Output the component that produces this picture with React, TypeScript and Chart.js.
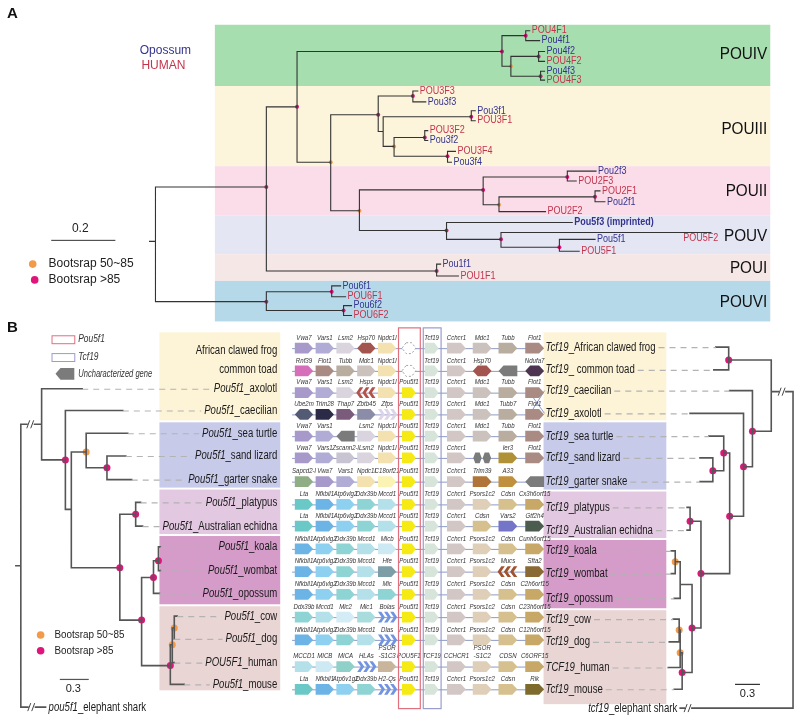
import React, { useEffect, useRef } from 'react';
import { Chart, registerables } from 'chart.js';

Chart.register(...registerables);

const FONT = '"Liberation Sans", Arial, Helvetica, sans-serif';
const BLUE = '#34348f';
const RED = '#c4334c';
const ORANGE = '#f29a48';
const MAGENTA = '#e0157b';

// ---------------- Panel A data ----------------
const cladeNames = ['POUIV', 'POUIII', 'POUII', 'POUV', 'POUI', 'POUVI'];
const cladeTop = [21, 83, 164, 214, 253, 280];
const cladeBottom = [83, 164, 214, 253, 280, 321];
const cladeColors = ['#a6deaf', '#fdf4dc', '#fbdde9', '#e4e6f3', '#f6e7e7', '#b6d9e9'];
const cladeLabelY = [51, 127, 189, 235, 267, 302];

// [id, parent, x, y, bootstrap, label, colour(b/r/B), labelX, labelY]
type TNode = [string, string | null, number, number, string, string?, string?, number?, number?];
const treeA: TNode[] = [
  ['r0', null, 147, 240, ''],
  ['r', 'r0', 153, 240, ''],
  ['n1', 'r', 265, 185, 'm'],
  ['n6', 'r', 265, 301, 'm'],
  ['n2', 'n1', 296, 104, 'm'],
  ['p1', 'n1', 437, 270, 'm'],
  ['iv', 'n2', 503, 48, 'm'],
  ['n3', 'n2', 330, 160, 'o'],
  ['iva', 'iv', 527, 32, 'm'],
  ['a1', 'iva', 531, 27, '', 'POU4F1', 'r'],
  ['a2', 'iva', 541, 37, '', 'Pou4f1', 'b'],
  ['ivb', 'iv', 512, 63, 'o'],
  ['ivc', 'ivb', 540, 53, 'm'],
  ['a3', 'ivc', 546, 48, '', 'Pou4f2', 'b'],
  ['a4', 'ivc', 546, 58, '', 'POU4F2', 'r'],
  ['ivd', 'ivb', 542, 73, 'm'],
  ['a5', 'ivd', 546, 68, '', 'Pou4f3', 'b'],
  ['a6', 'ivd', 546, 77, '', 'POU4F3', 'r'],
  ['iii', 'n3', 378, 112, 'm'],
  ['iiia', 'iii', 413, 93, 'm'],
  ['a7', 'iiia', 418, 88, '', 'POU3F3', 'r'],
  ['a8', 'iiia', 426, 99, '', 'Pou3f3', 'b'],
  ['iiib', 'iii', 383, 129, ''],
  ['iiic', 'iiib', 472, 114, 'm'],
  ['a9', 'iiic', 476, 108, '', 'Pou3f1', 'b'],
  ['a10', 'iiic', 476, 118, '', 'POU3F1', 'r'],
  ['iiid', 'iiib', 394, 144, 'o'],
  ['iiie', 'iiid', 425, 135, 'm'],
  ['a11', 'iiie', 428, 128, '', 'POU3F2', 'r'],
  ['a12', 'iiie', 428, 138, '', 'Pou3f2', 'b'],
  ['iiif', 'iiid', 448, 154, 'm'],
  ['a13', 'iiif', 456, 149, '', 'POU3F4', 'r'],
  ['a14', 'iiif', 452, 160, '', 'Pou3f4', 'b'],
  ['n4', 'n3', 359, 209, 'o'],
  ['ii', 'n4', 484, 188, 'm'],
  ['iia', 'ii', 569, 175, 'm'],
  ['a15', 'iia', 598, 169, '', 'Pou2f3', 'b'],
  ['a16', 'iia', 578, 179, '', 'POU2F3', 'r'],
  ['iib', 'ii', 500, 203, 'o'],
  ['iic', 'iib', 597, 195, 'm'],
  ['a17', 'iic', 602, 189, '', 'POU2F1', 'r'],
  ['a18', 'iic', 607, 200, '', 'Pou2f1', 'b'],
  ['a19', 'iib', 547, 210, '', 'POU2F2', 'r'],
  ['v', 'n4', 447, 229, 'm'],
  ['a20', 'v', 574, 221, '', 'Pou5f3 (imprinted)', 'B'],
  ['va', 'v', 502, 238, 'm'],
  ['a21', 'va', 714, 231, '', 'POU5F2', 'r', 686, 237],
  ['vb', 'va', 561, 246, 'm'],
  ['a22', 'vb', 597, 238, '', 'Pou5f1', 'b'],
  ['a23', 'vb', 581, 250, '', 'POU5F1', 'r'],
  ['a24', 'p1', 441, 263, '', 'Pou1f1', 'b'],
  ['a25', 'p1', 459, 275, '', 'POU1F1', 'r'],
  ['via', 'n6', 331, 291, 'm'],
  ['a26', 'via', 340, 285, '', 'Pou6f1', 'b'],
  ['a27', 'via', 345, 296, '', 'POU6F1', 'r'],
  ['vib', 'n6', 343, 310, 'm'],
  ['a28', 'vib', 351, 305, '', 'Pou6f2', 'b'],
  ['a29', 'vib', 351, 315, '', 'POU6F2', 'r'],
];

// ---------------- Panel B data ----------------
const bandColors = ['#fdf3d6', '#c7cae8', '#e3c8e1', '#d59cca', '#ead5d5'];
const leftBandTop = [332, 423, 491, 538, 609];
const leftBandBottom = [421, 489, 536, 607, 694];
const rightBandTop = [332, 423, 493, 542, 613];
const rightBandBottom = [421, 491, 540, 611, 708];

const leftExtraLabels = ['African clawed frog', 'common toad'];
const leftExtraY = [350, 370];

const treeBL: TNode[] = [
  ['lr0', null, 12, 568, ''],
  ['lr', 'lr0', 17, 568, ''],
  ['l1', 'lr', 38, 425, ''],
  ['shark', 'lr', 42, 711, '', 'pou5f1_elephant shark', 'S'],
  ['axo', 'l1', 79, 389, '', 'Pou5f1_axolotl'],
  ['l2', 'l1', 62, 461, 'm'],
  ['cae', 'l2', 120, 411, '', 'Pou5f1_caecilian'],
  ['l3', 'l2', 68, 511, ''],
  ['l4', 'l3', 83, 453, 'o'],
  ['tur', 'l4', 125, 434, '', 'Pou5f1_sea turtle'],
  ['l5', 'l4', 104, 469, 'm'],
  ['liz', 'l5', 123, 457, '', 'Pou5f1_sand lizard'],
  ['sna', 'l5', 129, 481, '', 'Pou5f1_garter snake'],
  ['l6', 'l3', 117, 570, 'm'],
  ['l7', 'l6', 133, 516, 'm'],
  ['pla', 'l7', 138, 504, '', 'Pou5f1_platypus'],
  ['ech', 'l7', 140, 528, '', 'Pou5f1_Australian echidna'],
  ['l8', 'l6', 139, 623, 'm'],
  ['l9', 'l8', 151, 580, 'm'],
  ['l10', 'l9', 156, 563, 'm'],
  ['koa', 'l10', 158, 549, '', 'Pou5f1_koala'],
  ['wom', 'l10', 158, 573, '', 'Pou5f1_wombat'],
  ['opo', 'l9', 157, 596, '', 'Pou5f1_opossum'],
  ['l11', 'l8', 168, 669, 'm'],
  ['l12', 'l11', 170, 648, 'o'],
  ['l13', 'l12', 172, 631, 'o'],
  ['cow', 'l13', 175, 619, '', 'Pou5f1_cow'],
  ['dog', 'l13', 172, 642, '', 'Pou5f1_dog'],
  ['hum', 'l12', 172, 666, '', 'POU5F1_human'],
  ['mou', 'l11', 182, 688, '', 'Pou5f1_mouse'],
];

const treeBR: TNode[] = [
  ['rr', null, 797, 552, ''],
  ['x', 'rr', 775, 392, ''],
  ['rsh', 'rr', 683, 712, '', 'tcf19_elephant shark', 'S'],
  ['ft', 'x', 732, 360, 'm'],
  ['rfrog', 'ft', 719, 347, '', 'Tcf19_African clawed frog'],
  ['rtoad', 'ft', 717, 370, '', 'Tcf19_ common toad'],
  ['y', 'x', 756, 432, 'm'],
  ['rcae', 'y', 733, 391, '', 'Tcf19_caecilian'],
  ['z', 'y', 747, 468, 'm'],
  ['raxo', 'z', 693, 414, '', 'Tcf19_axolotl'],
  ['w', 'z', 733, 518, 'm'],
  ['rep', 'w', 727, 454, 'm'],
  ['rtur', 'rep', 712, 437, '', 'Tcf19_sea turtle'],
  ['sq', 'rep', 716, 472, 'm'],
  ['rliz', 'sq', 703, 459, '', 'Tcf19_sand lizard'],
  ['rsna', 'sq', 703, 483, '', 'Tcf19_garter snake'],
  ['mam', 'w', 704, 576, 'm'],
  ['mono', 'mam', 693, 523, 'm'],
  ['rpla', 'mono', 690, 509, '', 'Tcf19_platypus'],
  ['rech', 'mono', 690, 532, '', 'Tcf19_Australian echidna'],
  ['m2', 'mam', 695, 631, 'm'],
  ['mar', 'm2', 683, 587, ''],
  ['kw', 'mar', 678, 564, 'o'],
  ['rkoa', 'kw', 674, 553, '', 'Tcf19_koala'],
  ['rwom', 'kw', 674, 576, '', 'Tcf19_wombat'],
  ['ropo', 'mar', 677, 601, '', 'Tcf19_opossum'],
  ['eu', 'm2', 685, 676, 'm'],
  ['cdh', 'eu', 683, 656, 'o'],
  ['cd', 'cdh', 682, 633, 'o'],
  ['rcow', 'cd', 676, 622, '', 'Tcf19_cow'],
  ['rdog', 'cd', 672, 645, '', 'Tcf19_dog'],
  ['rhum', 'cdh', 671, 671, '', 'TCF19_human'],
  ['rmou', 'eu', 677, 693, '', 'Tcf19_mouse'],
];

// "//" break marks on long branches
const breakMarks: [number, number][] = [[27, 425], [28, 711], [786, 392], [691, 712]];

// gene neighbourhoods (one row per species, 11 loci)
const geneRowY = [348, 371, 393, 415, 437, 459, 483, 506, 528, 551, 574, 597, 620, 643, 670, 693];
const geneColX = [303, 324, 345, 366, 387, 409, 432, 457, 483, 509, 536];
const geneRows: string[][] = [
  ['Vwa7', 'Vars1', 'Lsm2', 'Hsp70', 'Npdc1l', '~', 'Tcf19', 'Cchcr1', 'Mdc1', 'Tubb', 'Flot1'],
  ['Rnf39', 'Flot1', 'Tubb', 'Mdc1', 'Npdc1l', '~', 'Tcf19', 'Cchcr1', 'Hsp70', '?', 'Ndufa7'],
  ['Vwa7', 'Vars1', 'Lsm2', 'Hsps', 'Npdc1l', 'Pou5f1', 'Tcf19', 'Cchcr1', 'Mdc1', 'Tubb', 'Flot1'],
  ['Ube2m', 'Trim28', 'Thap7', 'Zbtb45', 'Zfps', 'Pou5f1', 'Tcf19', 'Cchcr1', 'Mdc1', 'Tubb7', 'Flot1'],
  ['Vwa7', 'Vars1', '?', 'Lsm2', 'Npdc1l', 'Pou5f1', 'Tcf19', 'Cchcr1', 'Mdc1', 'Tubb', 'Flot1'],
  ['Vwa7', 'Vars1', 'Zscann2-l', 'Lsm2', 'Npdc1l', 'Pou5f1', 'Tcf19', 'Cchcr1', '??', 'Ier3', 'Flot1'],
  ['Sapcd2-l', 'Vwa7', 'Vars1', 'Npdc1l', 'C18orf21', 'Pou5f1', 'Tcf19', 'Cchcr1', 'Trim39', 'A33', '?'],
  ['Lta', 'Nfkbil1', 'Atp6vlg2', 'Ddx39b', 'Mccd1', 'Pou5f1', 'Tcf19', 'Cchcr1', 'Psors1c2', 'Cdsn', 'Cx3h6orf15'],
  ['Lta', 'Nfkbil1', 'Atp6vlg2', 'Ddx39b', 'Mccd1', 'Pou5f1', 'Tcf19', 'Cchcr1', 'Cdsn', 'Vars2', 'Gtf2h4'],
  ['Nfkbil1', 'Atp6vlg2', 'Ddx39b', 'Mccd1', 'Micb', 'Pou5f1', 'Tcf19', 'Cchcr1', 'Psors1c2', 'Cdsn', 'Cunh6orf15'],
  ['Nfkbil1', 'Atp6vlg2', 'Ddx39b', 'Mccd1', 'Hfe', 'Pou5f1', 'Tcf19', 'Cchcr1', 'Psors1c2', 'Mucs', 'Sfta2'],
  ['Nfkbil1', 'Atp6vlg2', 'Ddx39b', 'Mccd1', 'Mic', 'Pou5f1', 'Tcf19', 'Cchcr1', 'Psors1c2', 'Cdsn', 'C2h6orf15'],
  ['Ddx39b', 'Mccd1', 'Mic2', 'Mic1', 'Bolas', 'Pou5f1', 'Tcf19', 'Cchcr1', 'Psors1c2', 'Cdsn', 'C23h6orf15'],
  ['Nfkbil1', 'Atp6vlg2', 'Ddx39b', 'Mccd1', 'Dlas', 'Pou5f1', 'Tcf19', 'Cchcr1', 'Psors1c2', 'Cdsn', 'C12h6orf15'],
  ['MCCD1', 'MICB', 'MICA', 'HLAs', 'PSOR\n-S1C3', 'POU5F1', 'TCF19', 'CCHCR1', 'PSOR\n-S1C2', 'CDSN', 'C6ORF15'],
  ['Lta', 'Nfkbil1', 'Atp6v1g2', 'Ddx39b', 'H2-Qs', 'Pou5f1', 'Tcf19', 'Cchcr1', 'Psors1c2', 'Cdsn', 'Rik'],
];

const geneColor: Record<string, string> = {
  Vwa7: '#a79acb', Vars1: '#b0acd5', Lsm2: '#d9d4de', Hsp70: '#a4544f', Hsps: '#b5524a',
  Npdc1l: '#f3e1b0', Tcf19: '#d6e4da', TCF19: '#d6e4da', Cchcr1: '#d3c7c6', CCHCR1: '#d3c7c6',
  Mdc1: '#cbc2bd', Tubb: '#b9ad9f', Tubb7: '#b9ad9f', Flot1: '#a98b84', Rnf39: '#d66fba',
  Ndufa7: '#4d3450', '?': '#7b7b7b', '??': '#7b7b7b', Ube2m: '#535a73', Trim28: '#2c2b47',
  Thap7: '#7b5b7b', Zbtb45: '#8b8da8', Zfps: '#ddd3ea', Pou5f1: '#f6ea14', POU5F1: '#f6ea14',
  'Zscann2-l': '#c9c4d2', Ier3: '#b09136', 'Sapcd2-l': '#8fae86', C18orf21: '#faf3b3',
  Trim39: '#b07438', A33: '#c0903d', Lta: '#6ac8c6', Nfkbil1: '#6cb4e6', Atp6vlg2: '#8ed0f0',
  Atp6v1g2: '#8ed0f0', Ddx39b: '#8fd4d4', Mccd1: '#b4e0ea', MCCD1: '#b4e0ea', Psors1c2: '#e0cfb8',
  'PSOR\n-S1C2': '#e0cfb8', 'PSOR\n-S1C3': '#c9b59c', Cdsn: '#d6c08e', CDSN: '#d6c08e',
  Cx3h6orf15: '#c8a866', Cunh6orf15: '#c8a866', C2h6orf15: '#c8a866', C23h6orf15: '#c8a866',
  C12h6orf15: '#c8a866', C6ORF15: '#c8a866', Vars2: '#7474c8', Gtf2h4: '#4c5d4f', Micb: '#cde9f3',
  MICB: '#cde9f3', Hfe: '#7d9ea7', Mucs: '#a0532e', Sfta2: '#8a6a34', Mic: '#8fd4d4', Mic2: '#d3ecf5',
  Mic1: '#a9dcdc', Bolas: '#7294e0', Dlas: '#7294e0', HLAs: '#7294e0', 'H2-Qs': '#7294e0',
  MICA: '#8fd0c8', Rik: '#7d6a2c', '~': '#9a9a9a',
};
const geneShape: Record<string, string> = {
  Hsp70: 'H', Ndufa7: 'H', Ube2m: 'H', '?': 'L', '??': 'P', '~': 'D',
  Hsps: '<', Mucs: '<', Zfps: '>', Bolas: '>', Dlas: '>', HLAs: '>', 'H2-Qs': '>',
};

// ---------------- helpers ----------------
function setFont(ctx: CanvasRenderingContext2D, size: number, italic?: boolean, bold?: boolean) {
  ctx.font = `${italic ? 'italic ' : ''}${bold ? 'bold ' : ''}${size}px ${FONT}`;
}
function txt(ctx: CanvasRenderingContext2D, s: string, x: number, y: number, o: any) {
  ctx.save();
  setFont(ctx, o.size, o.italic, o.bold);
  ctx.fillStyle = o.color || '#222';
  ctx.textAlign = o.align || 'left';
  ctx.textBaseline = 'middle';
  ctx.translate(x, y);
  ctx.scale(o.sx || 1, 1);
  ctx.fillText(s, 0, 0);
  ctx.restore();
}
function tw(ctx: CanvasRenderingContext2D, s: string, size: number, italic: boolean, sx: number) {
  ctx.save();
  setFont(ctx, size, italic, false);
  const w = ctx.measureText(s).width * sx;
  ctx.restore();
  return w;
}
// italic gene prefix + plain remainder; returns [left, right]
function richLabel(ctx: CanvasRenderingContext2D, label: string, x: number, y: number, align: string, size: number, sx: number) {
  const i = label.indexOf('_');
  const pre = i >= 0 ? label.slice(0, i) : '';
  const rest = i >= 0 ? label.slice(i) : label;
  const w1 = tw(ctx, pre, size, true, sx);
  const w2 = tw(ctx, rest, size, false, sx);
  const left = align === 'right' ? x - w1 - w2 : x;
  if (pre) txt(ctx, pre, left, y, { size, italic: true, sx, color: '#1a1a1a' });
  txt(ctx, rest, left + w1, y, { size, sx, color: '#1a1a1a' });
  return [left, left + w1 + w2];
}

function edgePoints(tree: TNode[]) {
  const map = new Map(tree.map((n) => [n[0], n]));
  const pts: any[] = [];
  for (const n of tree) {
    if (!n[1]) continue;
    const p = map.get(n[1])!;
    pts.push({ x: p[2], y: p[3] }, { x: p[2], y: n[3] }, { x: n[2], y: n[3] }, { x: NaN, y: null });
  }
  return pts;
}
function dots(tree: TNode[], kind: string) {
  return tree.filter((n) => n[4] === kind).map((n) => ({ x: n[2], y: n[3] }));
}

function drawGene(ctx: CanvasRenderingContext2D, kind: string, cx: number, cy: number, w: number, h: number, color: string) {
  const l = cx - w / 2, r = cx + w / 2, t = cy - h / 2, b = cy + h / 2;
  const tip = Math.min(5, w * 0.3);
  ctx.save();
  ctx.fillStyle = color;
  ctx.beginPath();
  if (kind === 'L') {
    ctx.moveTo(r, t); ctx.lineTo(l + tip, t); ctx.lineTo(l, cy); ctx.lineTo(l + tip, b); ctx.lineTo(r, b);
    ctx.closePath(); ctx.fill();
  } else if (kind === 'H' || kind === 'D') {
    ctx.moveTo(l + tip, t); ctx.lineTo(r - tip, t); ctx.lineTo(r, cy); ctx.lineTo(r - tip, b); ctx.lineTo(l + tip, b); ctx.lineTo(l, cy);
    ctx.closePath();
    if (kind === 'D') {
      ctx.fillStyle = '#ffffff'; ctx.fill();
      ctx.setLineDash([2, 2]); ctx.strokeStyle = color; ctx.lineWidth = 0.9; ctx.stroke();
    } else ctx.fill();
  } else if (kind === 'P') {
    const hw = w / 2 - 1;
    for (const c of [cx - hw / 2 - 0.5, cx + hw / 2 + 0.5]) {
      ctx.moveTo(c - hw / 2 + 2, t); ctx.lineTo(c + hw / 2 - 2, t); ctx.lineTo(c + hw / 2, cy);
      ctx.lineTo(c + hw / 2 - 2, b); ctx.lineTo(c - hw / 2 + 2, b); ctx.lineTo(c - hw / 2, cy); ctx.closePath();
    }
    ctx.fill();
  } else if (kind === '>' || kind === '<') {
    const s = w / 3;
    for (let i = 0; i < 3; i++) {
      if (kind === '>') {
        const x0 = l + i * s;
        ctx.moveTo(x0, t); ctx.lineTo(x0 + s * 0.55, t); ctx.lineTo(x0 + s * 1.15, cy);
        ctx.lineTo(x0 + s * 0.55, b); ctx.lineTo(x0, b); ctx.lineTo(x0 + s * 0.6, cy); ctx.closePath();
      } else {
        const x0 = r - i * s;
        ctx.moveTo(x0, t); ctx.lineTo(x0 - s * 0.55, t); ctx.lineTo(x0 - s * 1.15, cy);
        ctx.lineTo(x0 - s * 0.55, b); ctx.lineTo(x0, b); ctx.lineTo(x0 - s * 0.6, cy); ctx.closePath();
      }
    }
    ctx.fill();
  } else {
    ctx.moveTo(l, t); ctx.lineTo(r - tip, t); ctx.lineTo(r, cy); ctx.lineTo(r - tip, b); ctx.lineTo(l, b);
    ctx.closePath(); ctx.fill();
  }
  ctx.restore();
}

const figurePlugin = {
  id: 'figure',
  beforeDatasetsDraw(chart: any) {
    const ctx: CanvasRenderingContext2D = chart.ctx;
    const xs = chart.scales.x, ys = chart.scales.y;
    const X = (v: number) => xs.getPixelForValue(v);
    const Y = (v: number) => ys.getPixelForValue(v);
    const rect = (x0: number, y0: number, x1: number, y1: number, c: string) => {
      ctx.fillStyle = c;
      ctx.fillRect(X(x0), Y(y0), X(x1) - X(x0), Y(y1) - Y(y0));
    };
    ctx.save();
    cladeNames.forEach((n, i) => rect(213, cladeTop[i], 774, cladeBottom[i], cladeColors[i]));
    bandColors.forEach((c, i) => {
      rect(157, leftBandTop[i], 279, leftBandBottom[i], c);
      rect(545, rightBandTop[i], 669, rightBandBottom[i], c);
    });
    cladeNames.forEach((n, i) => txt(ctx, n, X(771), Y(cladeLabelY[i]), { size: 17, align: 'right', sx: 0.9, color: '#111' }));
    ctx.restore();
  },
  afterDatasetsDraw(chart: any) {
    const ctx: CanvasRenderingContext2D = chart.ctx;
    const xs = chart.scales.x, ys = chart.scales.y;
    const X = (v: number) => xs.getPixelForValue(v);
    const Y = (v: number) => ys.getPixelForValue(v);
    ctx.save();

    // panel letters
    txt(ctx, 'A', X(3), Y(10), { size: 15, bold: true, color: '#111' });
    txt(ctx, 'B', X(3), Y(327), { size: 15, bold: true, color: '#111' });

    // ---- Panel A labels ----
    txt(ctx, 'Opossum', X(163), Y(47), { size: 12, align: 'center', color: BLUE });
    txt(ctx, 'HUMAN', X(161), Y(62), { size: 12, align: 'center', color: RED });
    for (const n of treeA) {
      if (!n[5]) continue;
      const col = n[6] === 'r' ? RED : BLUE;
      const lx = n[7] !== undefined ? n[7] : n[2] + 2;
      const ly = n[8] !== undefined ? n[8] : n[3];
      txt(ctx, n[5], X(lx), Y(ly), { size: 10, sx: 0.9, color: col, bold: n[6] === 'B' });
    }
    txt(ctx, '0.2', X(77), Y(227), { size: 12, align: 'center', color: '#222' });
    txt(ctx, 'Bootsrap 50~85', X(45), Y(263), { size: 12, color: '#222' });
    txt(ctx, 'Bootsrap >85', X(45), Y(279), { size: 12, color: '#222' });

    // ---- Panel B legend ----
    ctx.lineWidth = 1;
    ctx.strokeStyle = '#e0707e';
    ctx.strokeRect(X(48) + 0.5, Y(335) + 0.5, X(71) - X(48), Y(343) - Y(335));
    ctx.strokeStyle = '#9a9ccc';
    ctx.strokeRect(X(48) + 0.5, Y(353) + 0.5, X(71) - X(48), Y(361) - Y(353));
    drawGene(ctx, 'L', X(61.5), Y(374), X(71) - X(52), Y(380) - Y(368), '#7b7b7b');
    txt(ctx, 'Pou5f1', X(75), Y(339), { size: 10.5, italic: true, sx: 0.8, color: '#333' });
    txt(ctx, 'Tcf19', X(75), Y(357), { size: 10.5, italic: true, sx: 0.8, color: '#333' });
    txt(ctx, 'Uncharacterized gene', X(75), Y(374), { size: 10.5, italic: true, sx: 0.72, color: '#333' });
    txt(ctx, 'Bootsrap 50~85', X(51), Y(638), { size: 11.5, sx: 0.86, color: '#222' });
    txt(ctx, 'Bootsrap >85', X(51), Y(654), { size: 11.5, sx: 0.86, color: '#222' });
    txt(ctx, '0.3', X(70), Y(693), { size: 11, align: 'center', color: '#222' });
    txt(ctx, '0.3', X(751), Y(698), { size: 11, align: 'center', color: '#222' });

    const LS = 12.3, LSX = 0.78;
    ctx.lineWidth = 1.1;
    ctx.strokeStyle = '#b3b3b3';
    const dash = (x0: number, x1: number, y: number) => {
      ctx.save();
      ctx.setLineDash([6, 5]);
      ctx.lineWidth = 1.1;
      ctx.strokeStyle = '#b3b3b3';
      ctx.beginPath();
      ctx.moveTo(X(x0), Y(y) + 0.5);
      ctx.lineTo(X(x1), Y(y) + 0.5);
      ctx.stroke();
      ctx.restore();
    };
    // left tree labels
    leftExtraLabels.forEach((s, i) => richLabel(ctx, s, X(276), Y(leftExtraY[i]), 'right', LS, LSX));
    for (const n of treeBL) {
      if (!n[5]) continue;
      if (n[6] === 'S') { richLabel(ctx, n[5], X(n[2] + 3), Y(n[3]), 'left', LS, LSX); continue; }
      const [l] = richLabel(ctx, n[5], X(276), Y(n[3]), 'right', LS, LSX);
      dash(n[2], xs.getValueForPixel(l) - 3, n[3]);
    }
    for (const n of treeBR) {
      if (!n[5]) continue;
      if (n[6] === 'S') { richLabel(ctx, n[5], X(n[2] - 3), Y(n[3]), 'right', LS, LSX); continue; }
      const [, r] = richLabel(ctx, n[5], X(547), Y(n[3]), 'left', LS, LSX);
      dash(xs.getValueForPixel(r) + 3, n[2], n[3]);
    }

    // break marks
    for (const [bx, by] of breakMarks) {
      ctx.fillStyle = '#ffffff';
      ctx.fillRect(X(bx - 3), Y(by) - 2, X(bx + 3) - X(bx - 3), 4);
      ctx.strokeStyle = '#444';
      ctx.lineWidth = 1;
      ctx.beginPath();
      ctx.moveTo(X(bx - 4), Y(by) + 4); ctx.lineTo(X(bx - 1), Y(by) - 4);
      ctx.moveTo(X(bx), Y(by) + 4); ctx.lineTo(X(bx + 3), Y(by) - 4);
      ctx.stroke();
    }

    // ---- gene neighbourhoods ----
    ctx.strokeStyle = '#8d9ac7';
    ctx.lineWidth = 1;
    geneRowY.forEach((gy, ri) => {
      const crossed = ri === 2 || ri === 3;
      ctx.beginPath();
      ctx.moveTo(X(291), Y(gy) + 0.5);
      ctx.lineTo(X(crossed ? 531 : 545), Y(gy) + 0.5);
      ctx.stroke();
    });
    ctx.beginPath();
    ctx.moveTo(X(531), Y(geneRowY[2])); ctx.lineTo(X(546), Y(414));
    ctx.moveTo(X(531), Y(geneRowY[3])); ctx.lineTo(X(546), Y(391));
    ctx.stroke();

    geneRows.forEach((row, ri) => {
      const gy = geneRowY[ri];
      row.forEach((g, ci) => {
        const w = ci === 5 || ci === 6 ? 14 : ci > 6 ? 19 : 18.5;
        const cx = geneColX[ci];
        drawGene(ctx, geneShape[g] || 'R', X(cx), Y(gy), X(cx + w / 2) - X(cx - w / 2), Y(gy + 5.5) - Y(gy - 5.5), geneColor[g] || '#bbbbbb');
        if (g === '?' || g === '??' || g === '~') return;
        const lines = g.split('\n');
        lines.forEach((s, k) => {
          const ly = gy - 10.5 - (lines.length - 1 - k) * 8;
          txt(ctx, s, X(cx), Y(ly), { size: 8, italic: true, align: 'center', sx: 0.76, color: '#333' });
        });
      });
    });

    // Pou5f1 and Tcf19 columns
    ctx.lineWidth = 1.2;
    ctx.strokeStyle = '#e0707e';
    ctx.strokeRect(X(398) + 0.5, Y(327) + 0.5, X(420) - X(398), Y(712) - Y(327));
    ctx.strokeStyle = '#9a9ccc';
    ctx.strokeRect(X(423) + 0.5, Y(327) + 0.5, X(441) - X(423), Y(712) - Y(327));

    ctx.restore();
  },
};

export default function App() {
  const ref = useRef<HTMLCanvasElement>(null);
  useEffect(() => {
    const canvas = ref.current!;
    const lineDs = (data: any[], color: string, width: number) => ({
      type: 'line' as const, data, showLine: true, spanGaps: false, borderColor: color,
      borderWidth: width, pointRadius: 0, tension: 0, fill: false, borderCapStyle: 'square' as const,
    });
    const dotDs = (data: any[], color: string, r: number) => ({
      type: 'scatter' as const, data, pointRadius: r, pointBackgroundColor: color,
      pointBorderWidth: 0, borderColor: color, showLine: false,
    });
    const chart = new Chart(canvas, {
      type: 'scatter',
      data: {
        datasets: [
          lineDs(edgePoints(treeA), '#333333', 1.1),
          lineDs(edgePoints(treeBL), '#555555', 1.6),
          lineDs(edgePoints(treeBR), '#555555', 1.6),
          lineDs([{ x: 48, y: 239 }, { x: 112, y: 239 }], '#333333', 1),
          lineDs([{ x: 57, y: 683 }, { x: 85, y: 683 }], '#555555', 1.2),
          lineDs([{ x: 739, y: 688 }, { x: 763, y: 688 }], '#333333', 1.2),
          dotDs(dots(treeA, 'o'), ORANGE, 2),
          dotDs(dots(treeA, 'm'), MAGENTA, 2),
          dotDs(dots(treeBL, 'o').concat(dots(treeBR, 'o')), ORANGE, 3.5),
          dotDs(dots(treeBL, 'm').concat(dots(treeBR, 'm')), MAGENTA, 3.5),
          dotDs([{ x: 29, y: 263 }, { x: 37, y: 638 }], ORANGE, 3.8),
          dotDs([{ x: 31, y: 279 }, { x: 37, y: 654 }], MAGENTA, 3.8),
        ] as any,
      },
      options: {
        responsive: false,
        animation: false,
        events: [],
        layout: { padding: 0 },
        plugins: { legend: { display: false }, tooltip: { enabled: false } },
        scales: {
          x: { type: 'linear', min: 0, max: 800, display: false },
          y: { type: 'linear', min: 0, max: 722, reverse: true, display: false },
        },
      },
      plugins: [figurePlugin],
    });
    return () => chart.destroy();
  }, []);
  return (
    <div style={{ position: 'absolute', left: 0, top: 0, width: 800, height: 722, background: '#fff' }}>
      <canvas ref={ref} width={800} height={722} style={{ display: 'block' }} />
    </div>
  );
}
